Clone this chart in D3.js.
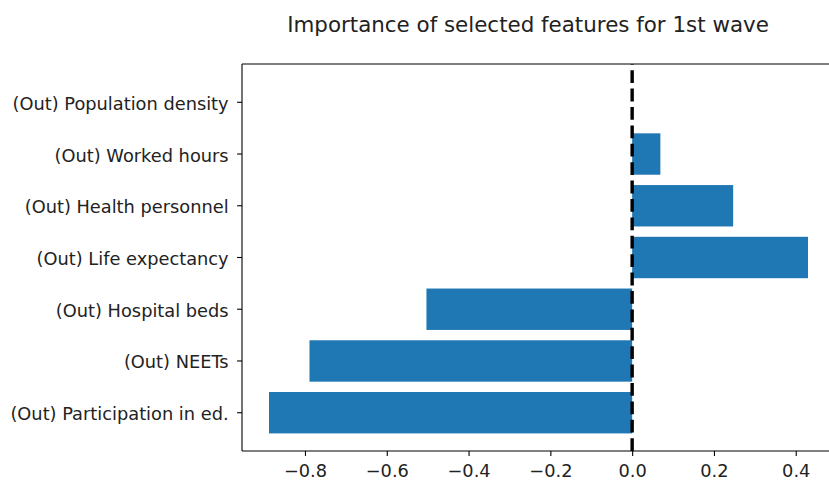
<!DOCTYPE html>
<html>
<head>
<meta charset="utf-8">
<script src="https://cdn.jsdelivr.net/npm/d3@7"></script>
<style>
  html, body { margin: 0; padding: 0; background: #fff; }
  svg { display: block; font-family: "DejaVu Sans", sans-serif; }
</style>
</head>
<body>
<svg id="chart" width="829" height="482"></svg>
<script>
// Feature importances, listed top to bottom as drawn
const features = [
  "(Out) Population density",
  "(Out) Worked hours",
  "(Out) Health personnel",
  "(Out) Life expectancy",
  "(Out) Hospital beds",
  "(Out) NEETs",
  "(Out) Participation in ed."
];
const importance = [0.0, 0.069, 0.247, 0.430, -0.503, -0.789, -0.888];
const xTickValues = [-0.8, -0.6, -0.4, -0.2, 0.0, 0.2, 0.4];
const xDomain = [-0.954, 0.496];
const titleText = "Importance of selected features for 1st wave";

const svg = d3.select("#chart");
const plot = { left: 242, right: 835, top: 64, bottom: 451 };
const tickFont = "17.8px";
const titleFont = "21.4px";

const x = d3.scaleLinear().domain(xDomain).range([plot.left, plot.right]);
const y = d3.scaleBand()
  .domain(features)
  .range([plot.top, plot.bottom])
  .paddingInner(0.2)
  .paddingOuter(0.34);

const barColor = "#1f77b4";

// bars
svg.append("g")
  .selectAll("rect")
  .data(features.map((f, i) => ({ f, v: importance[i] })))
  .join("rect")
  .attr("x", d => x(Math.min(0, d.v)))
  .attr("width", d => Math.abs(x(d.v) - x(0)))
  .attr("y", d => y(d.f))
  .attr("height", y.bandwidth())
  .attr("fill", barColor);

// zero reference line, dashed from bottom to top
svg.append("line")
  .attr("x1", x(0)).attr("x2", x(0))
  .attr("y1", plot.bottom).attr("y2", plot.top)
  .attr("stroke", "#000")
  .attr("stroke-width", 3.4)
  .attr("stroke-dasharray", "12.8,5.6");

// spines (left, bottom, top; right side lies outside the canvas)
const spine = svg.append("g").attr("stroke", "#000").attr("stroke-width", 1.1).attr("fill", "none");
spine.append("line").attr("x1", plot.left).attr("x2", plot.left).attr("y1", plot.top).attr("y2", plot.bottom);
spine.append("line").attr("x1", plot.left).attr("x2", plot.right).attr("y1", plot.bottom).attr("y2", plot.bottom);
spine.append("line").attr("x1", plot.left).attr("x2", plot.right).attr("y1", plot.top).attr("y2", plot.top);
spine.append("line").attr("x1", plot.right).attr("x2", plot.right).attr("y1", plot.top).attr("y2", plot.bottom);

// x axis
const xAxis = svg.append("g")
  .attr("transform", `translate(0,${plot.bottom})`)
  .call(d3.axisBottom(x).tickValues(xTickValues).tickFormat(d3.format(".1f"))
    .tickSize(4.9).tickPadding(8).tickSizeOuter(0));
xAxis.select(".domain").remove();
xAxis.selectAll("line").attr("stroke", "#000").attr("stroke-width", 1.1);
xAxis.selectAll("text").attr("fill", "#222").style("font-size", tickFont)
  .style("font-family", "DejaVu Sans");

// y axis
const yAxis = svg.append("g")
  .attr("transform", `translate(${plot.left},0)`)
  .call(d3.axisLeft(y).tickSize(4.9).tickPadding(8.5).tickSizeOuter(0));
yAxis.select(".domain").remove();
yAxis.selectAll("line").attr("stroke", "#000").attr("stroke-width", 1.1);
yAxis.selectAll("text").attr("fill", "#222").attr("dy", "0.42em")
  .style("font-size", tickFont).style("font-family", "DejaVu Sans");

// title
svg.append("text")
  .attr("x", 528)
  .attr("y", 32)
  .attr("text-anchor", "middle")
  .style("font-size", titleFont)
  .style("font-family", "DejaVu Sans")
  .attr("fill", "#222")
  .text(titleText);
</script>
</body>
</html>
